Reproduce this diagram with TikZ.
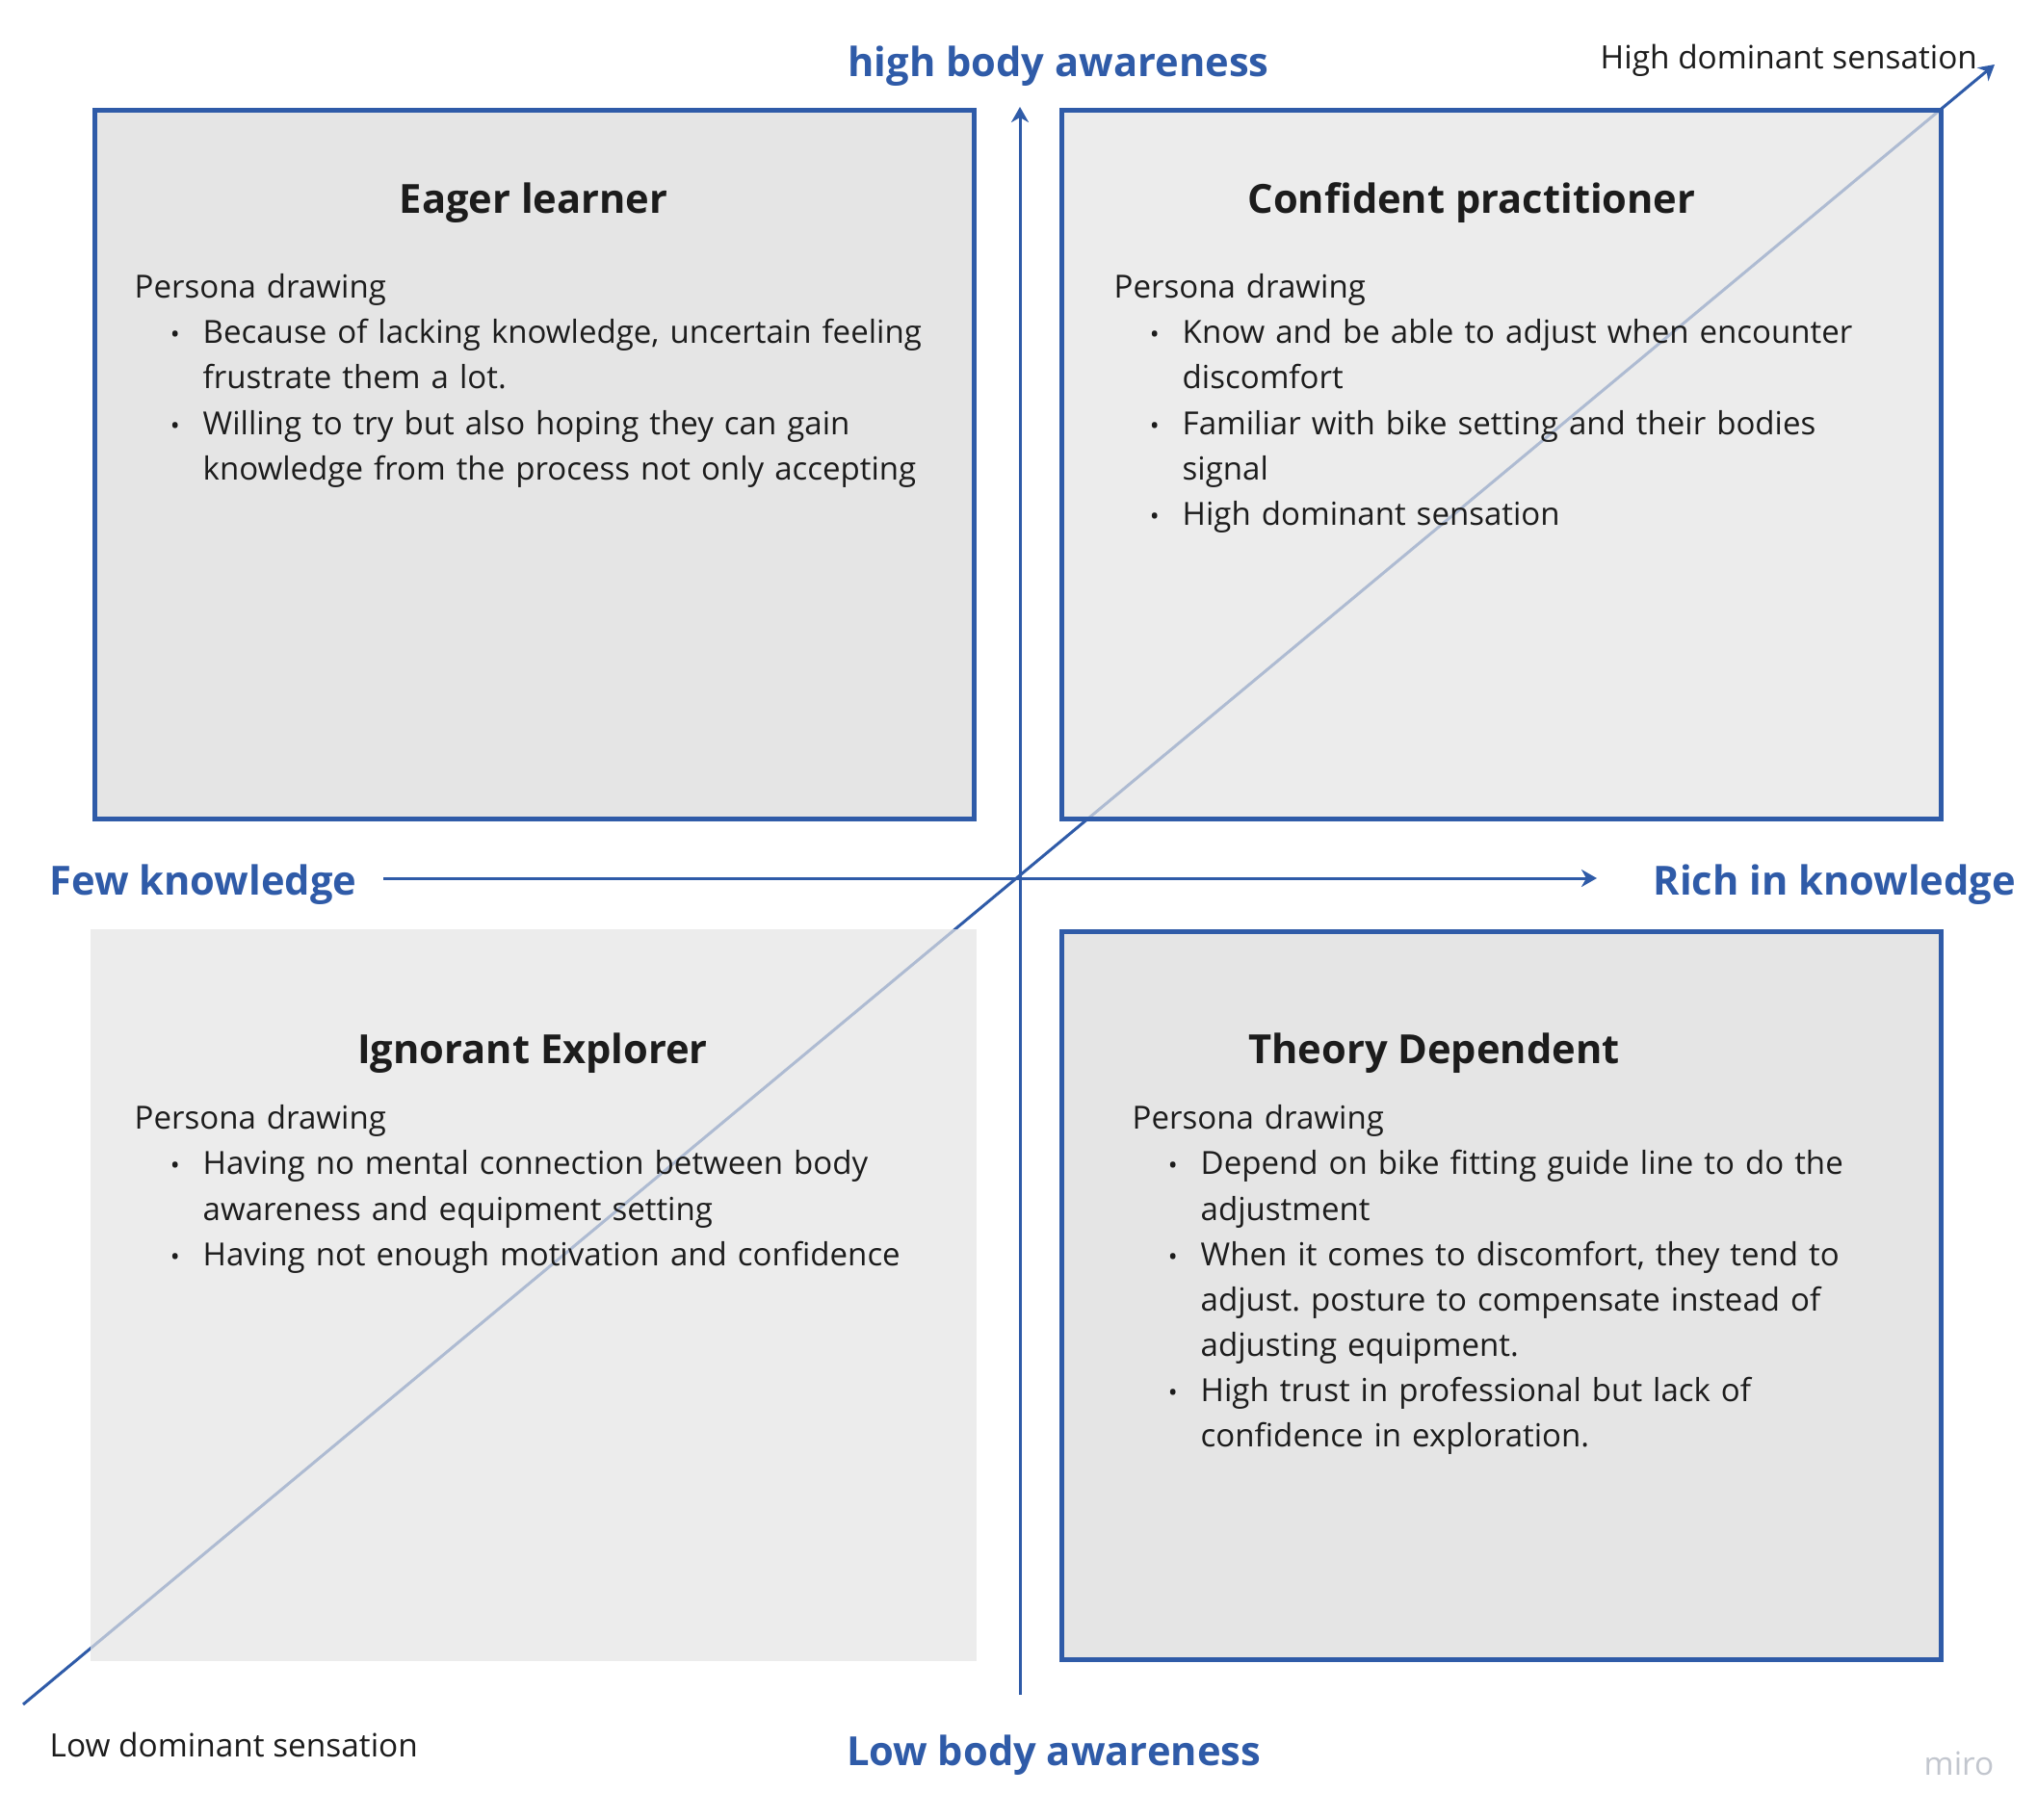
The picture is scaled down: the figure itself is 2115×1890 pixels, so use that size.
\documentclass[tikz,border=0pt]{standalone}
\usepackage{fontspec}
\setmainfont{Open Sans}
\usepackage{enumitem}
\usetikzlibrary{arrows.meta}
\frenchspacing

\definecolor{axisblue}{HTML}{2F5BA8}
\definecolor{inkblack}{HTML}{1C1C1C}
\definecolor{boxdark}{HTML}{DBDBDB}
\definecolor{boxlight}{HTML}{E4E4E4}
\definecolor{mirogray}{HTML}{C2C6CE}

\newlist{traits}{itemize}{1}
\setlist[traits]{label={\fontsize{7.5pt}{7.5pt}\selectfont\textbullet}, leftmargin=7.1mm,
  labelsep=2.4mm, topsep=0pt, partopsep=0pt, itemsep=0pt, parsep=0pt}

\begin{document}
\begin{tikzpicture}[x=0.1mm, y=-0.1mm]

\tikzstyle{quad}=[draw=axisblue, line width=0.5mm, minimum width=91.3mm,
minimum height=73.6mm, fill opacity=0.7, inner sep=0pt]
\tikzstyle{title}=[font=\fontsize{11.85pt}{15pt}\selectfont\bfseries, text=inkblack]
\tikzstyle{body}=[anchor=north west, inner sep=0pt, text width=95mm, align=left,
font=\fontsize{9.4pt}{13.4pt}\selectfont, text=inkblack]
\tikzstyle{axis}=[draw=axisblue, line width=0.3mm]
\tikzstyle{axislabel}=[font=\fontsize{11.85pt}{15pt}\selectfont\bfseries, text=axisblue, inner sep=0pt]
\tikzstyle{note}=[font=\fontsize{9.5pt}{12pt}\selectfont, text=inkblack, inner sep=0pt]

\useasboundingbox[fill=white] (0,0) rectangle (2115,1890);

\coordinate (dlow) at (24,1770);
\coordinate (dhigh) at (2071,67);
\coordinate (vbot) at (1059,1760);
\coordinate (vtop) at (1059,111);
\coordinate (hleft) at (398,912);
\coordinate (hright) at (1658,912);

\draw[axis, -{Stealth[length=1.6mm, width=1.8mm, inset=0.5mm]}] (dlow) -- (dhigh);

% quadrants
\node[quad, fill=boxdark] (eager) at (555,483) {};
\node[quad, fill=boxlight] (confident) at (1558.5,483) {};
\node[quad, draw=none, fill=boxlight, minimum width=92mm, minimum height=76mm] (ignorant) at (554,1345) {};
\node[quad, fill=boxdark, minimum height=75.6mm] (theory) at (1558.5,1345) {};

\draw[axis, -{Stealth[length=1.6mm, width=1.8mm, inset=0.5mm]}] (vbot) -- (vtop);
\draw[axis, -{Stealth[length=1.6mm, width=1.8mm, inset=0.5mm]}] (hleft) -- (hright);

\node[title] (eagertitle) at (554,211) {Eager learner};
\node[title] (confidenttitle) at (1528,211) {Confident practitioner};
\node[title] (ignoranttitle) at (553,1094) {Ignorant Explorer};
\node[title] (theorytitle) at (1489,1094) {Theory Dependent};

\node[body] (eagertext) at (139,284) {Persona drawing
\begin{traits}
\item Because of lacking knowledge, uncertain feeling\newline frustrate them a lot.
\item Willing to try but also hoping they can gain\newline knowledge from the process not only accepting
\end{traits}};
\node[body] (confidenttext) at (1156,284) {Persona drawing
\begin{traits}
\item Know and be able to adjust when encounter\newline discomfort
\item Familiar with bike setting and their bodies\newline signal
\item High dominant sensation
\end{traits}};
\node[body] (ignoranttext) at (139,1147) {Persona drawing
\begin{traits}
\item Having no mental connection between body\newline awareness and equipment setting
\item Having not enough motivation and confidence
\end{traits}};
\node[body] (theorytext) at (1175,1147) {Persona drawing
\begin{traits}
\item Depend on bike fitting guide line to do the\newline adjustment
\item When it comes to discomfort, they tend to\newline adjust. posture to compensate instead of\newline adjusting equipment.
\item High trust in professional but lack of\newline confidence in exploration.
\end{traits}};

% axis labels
\node[axislabel] (highbody) at (1099,69) {high body awareness};
\node[axislabel] (lowbody) at (1094,1823) {Low body awareness};
\node[axislabel, anchor=west] (few) at (51,919) {Few knowledge};
\node[axislabel, anchor=west] (rich) at (1716,919) {Rich in knowledge};
\node[note, anchor=west] (highsense) at (1661,63) {High dominant sensation};
\node[note, anchor=west] (lowsense) at (51,1812) {Low dominant sensation};
\node[note, text=mirogray] (miro) at (2034,1831) {miro};

\end{tikzpicture}
\end{document}
